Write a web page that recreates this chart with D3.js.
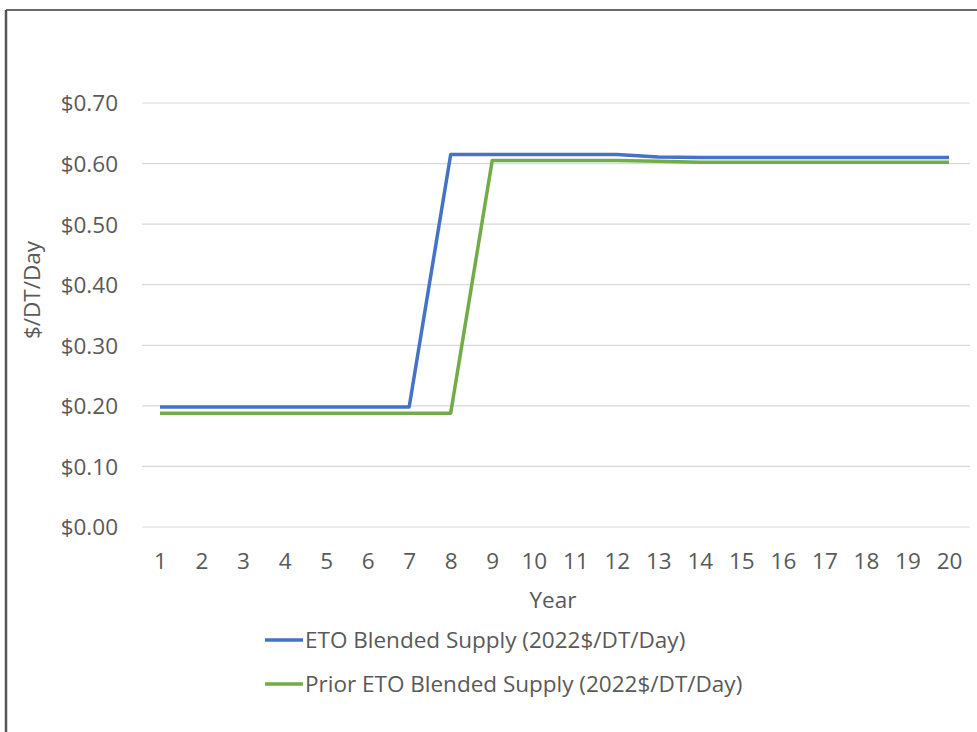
<!DOCTYPE html>
<html><head><meta charset="utf-8">
<script src="https://cdn.jsdelivr.net/npm/d3@7"></script>
<style>
html,body{margin:0;padding:0;background:#fff;}
svg{display:block;}
text{font-family:"Open Sans","Noto Sans",sans-serif;fill:#595959;}
</style></head>
<body>
<script>
const years = d3.range(1, 21);
const etoBlended = [0.198,0.198,0.198,0.198,0.198,0.198,0.198,0.615,0.615,0.615,0.615,0.615,0.611,0.610,0.610,0.610,0.610,0.610,0.610,0.610];
const priorEtoBlended = [0.188,0.188,0.188,0.188,0.188,0.188,0.188,0.188,0.605,0.605,0.605,0.605,0.604,0.602,0.602,0.602,0.602,0.602,0.602,0.602];
const yTicks = [0,0.1,0.2,0.3,0.4,0.5,0.6,0.7];
const seriesNames = ["ETO Blended Supply (2022$/DT/Day)","Prior ETO Blended Supply (2022$/DT/Day)"];
const colors = ["#4472C4","#70AD47"];

const W = 977, H = 732;
const FS = "22.5px";
const svg = d3.select("body").append("svg").attr("width", W).attr("height", H);

// frame
svg.append("line").attr("x1",6).attr("x2",W).attr("y1",10).attr("y2",10).attr("stroke","#6a6a6a").attr("stroke-width",2);
svg.append("line").attr("x1",6).attr("x2",6).attr("y1",10).attr("y2",H).attr("stroke","#555").attr("stroke-width",2.5);

const x = d3.scalePoint().domain(years).range([160, 949]);
const y = d3.scaleLinear().domain([0, 0.7]).range([527, 103]);

// gridlines
svg.append("g").selectAll("line").data(yTicks).join("line")
  .attr("x1",142).attr("x2",970)
  .attr("y1",d=>y(d)).attr("y2",d=>y(d))
  .attr("stroke","#d9d9d9").attr("stroke-width",1.2);

// y axis labels
const yAxis = d3.axisLeft(y).tickValues(yTicks).tickFormat(d=>"$"+d.toFixed(2)).tickSize(0).tickPadding(0);
const gy = svg.append("g").attr("transform","translate(118,0)").call(yAxis);
gy.select(".domain").remove();
gy.selectAll("text").style("font-size",FS).attr("fill","#595959").attr("dy","0.35em");

// x axis labels
const xAxis = d3.axisBottom(x).tickSize(0).tickPadding(0);
const gx = svg.append("g").attr("transform","translate(0,553)").call(xAxis);
gx.select(".domain").remove();
gx.selectAll("text").style("font-size",FS).attr("fill","#595959").attr("dy","0.71em");

// axis titles
svg.append("text").attr("transform","translate(40,290) rotate(-90)").attr("text-anchor","middle")
  .style("font-size",FS).text("$/DT/Day");
svg.append("text").attr("x",553).attr("y",608).attr("text-anchor","middle")
  .style("font-size",FS).text("Year");

// lines
const line = d3.line().x((d,i)=>x(years[i])).y(d=>y(d));
[etoBlended, priorEtoBlended].forEach((s,k)=>{
  svg.append("path").datum(s).attr("d",line).attr("fill","none")
    .attr("stroke",colors[k]).attr("stroke-width",3.5).attr("stroke-linejoin","round");
});

// legend
seriesNames.forEach((n,k)=>{
  const ly = 640 + k*44;
  svg.append("line").attr("x1",265).attr("x2",303).attr("y1",ly).attr("y2",ly)
    .attr("stroke",colors[k]).attr("stroke-width",3.5);
  svg.append("text").attr("x",305).attr("y",ly).attr("dy","0.35em")
    .style("font-size",FS).text(n);
});
</script>
</body></html>
